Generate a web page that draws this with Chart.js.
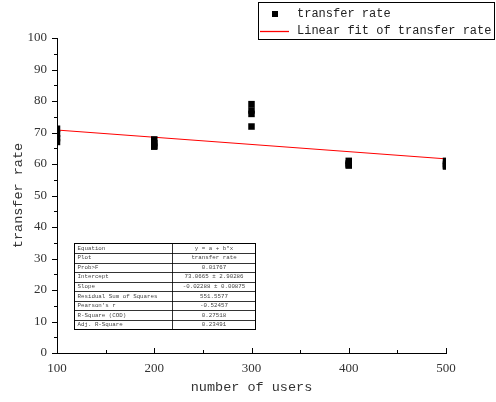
<!DOCTYPE html>
<html lang="en">
<head>
    <meta charset="UTF-8">
    <title>transfer rate</title>
    <script src="https://cdn.jsdelivr.net/npm/chart.js"></script>
    <style>
        body {
            margin: 0;
            background: #fff;
        }
        #chart {
            display: block;
        }
    </style>
</head>
<body>
<canvas id="chart" width="496" height="402"></canvas>

<script>
    // measured points (number of users -> transfer rate)
    const users = [100, 100, 100, 100, 200, 200, 200, 200, 300, 300, 300, 300, 400, 400, 400, 400, 500, 500, 500, 500];
    const rates = [71.2, 69.5, 68.2, 67.0, 67.8, 66.6, 65.8, 65.5, 79.0, 77.0, 75.9, 71.9, 61.0, 60.2, 59.8, 59.5, 61.0, 60.0, 59.5, 59.2];

    // linear fit end points
    const fitUsers = [100, 500];
    const fitRates = [70.78, 61.63];

    // fit result table
    const tableLabels = ['Equation', 'Plot', 'Prob>F', 'Intercept', 'Slope', 'Residual Sum of Squares',
        "Pearson's r", 'R-Square (COD)', 'Adj. R-Square'];
    const tableValues = ['y = a + b*x', 'transfer rate', '0.01767', '73.0665 \u00b1 2.90286', '-0.02288 \u00b1 0.00875',
        '551.5577', '-0.52457', '0.27518', '0.23491'];

    const legendLabels = ['transfer rate', 'Linear fit of transfer rate'];

    const MONO = '"Liberation Mono", monospace';
    const SERIF = '"Liberation Serif", serif';

    // ticks, legend box and fit table drawn on top
    const extras = {
        id: 'extras',
        afterDraw(chart) {
            const ctx = chart.ctx;
            const xs = chart.scales.x;
            const ys = chart.scales.y;
            ctx.save();
            ctx.strokeStyle = '#000';
            ctx.lineWidth = 1;

            // y ticks, outward
            for (let v = 0; v <= 100; v += 5) {
                const py = Math.round(ys.getPixelForValue(v)) + 0.5;
                const len = v % 10 === 0 ? 5 : 3;
                ctx.beginPath();
                ctx.moveTo(xs.left, py);
                ctx.lineTo(xs.left - len, py);
                ctx.stroke();
            }
            // x ticks, inward
            for (let v = 100; v <= 500; v += 50) {
                const px = Math.round(xs.getPixelForValue(v)) + 0.5;
                const len = v % 100 === 0 ? 5 : 3;
                ctx.beginPath();
                ctx.moveTo(px, ys.bottom);
                ctx.lineTo(px, ys.bottom - len);
                ctx.stroke();
            }

            // legend
            ctx.strokeRect(258.5, 2.5, 236, 37);
            ctx.fillStyle = '#000';
            ctx.fillRect(272, 11, 6, 6);
            ctx.strokeStyle = 'rgb(255, 0, 0)';
            ctx.lineWidth = 1.3;
            ctx.beginPath();
            ctx.moveTo(260, 31.5);
            ctx.lineTo(289, 31.5);
            ctx.stroke();
            ctx.lineWidth = 1;
            ctx.strokeStyle = '#000';
            ctx.fillStyle = '#222';
            ctx.font = '12px ' + MONO;
            ctx.textBaseline = 'middle';
            ctx.textAlign = 'left';
            ctx.fillText(legendLabels[0], 297, 14);
            ctx.fillText(legendLabels[1], 297, 31);

            // table
            const tx = 74.5, ty = 243.5, tw = 181, th = 86, split = 172.5;
            const rh = th / tableLabels.length;
            ctx.fillStyle = '#fff';
            ctx.fillRect(tx, ty, tw, th);
            ctx.strokeRect(tx, ty, tw, th);
            ctx.lineWidth = 0.8;
            ctx.beginPath();
            for (let i = 1; i < tableLabels.length; i++) {
                const ry = Math.round(ty + i * rh) + 0.5;
                ctx.moveTo(tx, ry);
                ctx.lineTo(tx + tw, ry);
            }
            ctx.moveTo(split, ty);
            ctx.lineTo(split, ty + th);
            ctx.stroke();
            ctx.fillStyle = '#444';
            ctx.font = '5.8px ' + MONO;
            for (let i = 0; i < tableLabels.length; i++) {
                const cy = ty + (i + 0.5) * rh;
                ctx.textAlign = 'left';
                ctx.fillText(tableLabels[i], tx + 3, cy);
                ctx.textAlign = 'center';
                ctx.fillText(tableValues[i], (split + tx + tw) / 2, cy);
            }
            ctx.restore();
        }
    };

    const ctx = document.getElementById('chart').getContext('2d');
    const chart = new Chart(ctx, {
        type: 'scatter',
        data: {
            datasets: [{
                label: legendLabels[0],
                data: users.map((u, i) => ({x: u, y: rates[i]})),
                pointStyle: 'rect',
                pointRadius: 4.6,
                pointHoverRadius: 4.6,
                backgroundColor: '#000',
                borderColor: '#000',
                borderWidth: 0,
                clip: 0
            }, {
                type: 'line',
                label: legendLabels[1],
                data: fitUsers.map((u, i) => ({x: u, y: fitRates[i]})),
                borderColor: '#ff0000',
                borderWidth: 1,
                pointRadius: 0,
                fill: false,
                clip: 0
            }]
        },
        options: {
            responsive: false,
            animation: false,
            layout: {
                padding: {left: 0, right: 50, top: 38, bottom: 0}
            },
            plugins: {
                legend: {display: false},
                tooltip: {enabled: false}
            },
            scales: {
                x: {
                    type: 'linear',
                    min: 100,
                    max: 500,
                    afterFit: s => { s.height = 49; },
                    grid: {display: false, drawTicks: false},
                    border: {display: true, color: '#000', width: 1},
                    ticks: {
                        stepSize: 100,
                        padding: 8,
                        color: '#333',
                        font: {family: SERIF, size: 13}
                    },
                    title: {
                        display: true,
                        text: 'number of users',
                        color: '#333',
                        font: {family: MONO, size: 13.5},
                        padding: {top: 4, bottom: 6}
                    }
                },
                y: {
                    min: 0,
                    max: 100,
                    afterFit: s => { s.width = 57; },
                    grid: {display: false, drawTicks: false},
                    border: {display: true, color: '#000', width: 1},
                    ticks: {
                        stepSize: 10,
                        padding: 10,
                        color: '#333',
                        font: {family: SERIF, size: 13}
                    },
                    title: {
                        display: true,
                        text: 'transfer rate',
                        color: '#333',
                        font: {family: MONO, size: 13.5},
                        padding: {top: 10, bottom: 0}
                    }
                }
            }
        },
        plugins: [extras]
    });
</script>
</body>
</html>
